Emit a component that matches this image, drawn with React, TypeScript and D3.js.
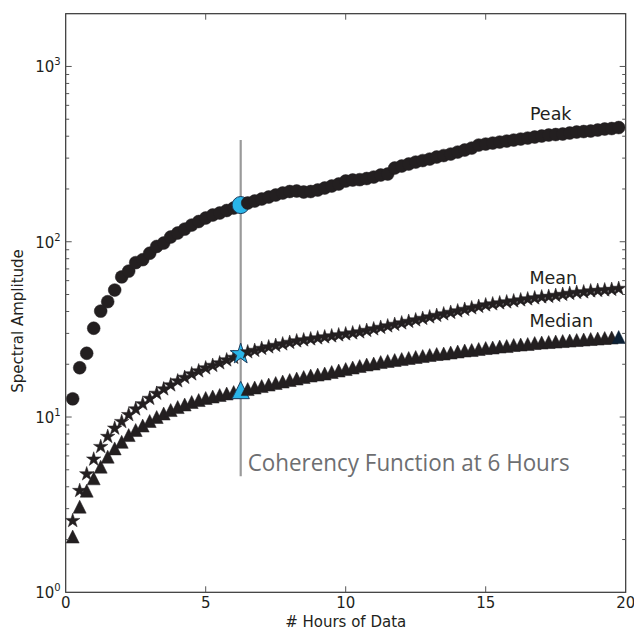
import React from 'react';
import * as d3 from 'd3';

const hours = [
  0.25, 0.5, 0.75, 1, 1.25, 1.5, 1.75, 2, 2.25, 2.5, 2.75, 3, 3.25, 3.5, 3.75, 4,
  4.25, 4.5, 4.75, 5, 5.25, 5.5, 5.75, 6, 6.25, 6.5, 6.75, 7, 7.25, 7.5, 7.75, 8,
  8.25, 8.5, 8.75, 9, 9.25, 9.5, 9.75, 10, 10.25, 10.5, 10.75, 11, 11.25, 11.5, 11.75, 12,
  12.25, 12.5, 12.75, 13, 13.25, 13.5, 13.75, 14, 14.25, 14.5, 14.75, 15, 15.25, 15.5, 15.75, 16,
  16.25, 16.5, 16.75, 17, 17.25, 17.5, 17.75, 18, 18.25, 18.5, 18.75, 19, 19.25, 19.5, 19.75,
];

const peak = [
  12.7, 19.1, 23.1, 32.1, 40.2, 45.5, 53.0, 63.0, 68.0, 76.0, 79.0, 86.0, 94.0, 98.3, 106.4, 112.1,
  118.1, 124.5, 130.4, 136.6, 142.0, 145.8, 150.7, 155.7, 161.9, 166.3, 170.7, 175.3, 179.9, 184.7, 189.6, 193.4,
  194.7, 192.1, 193.4, 197.2, 202.5, 207.9, 213.4, 222.0, 224.9, 226.0, 229.4, 233.9, 240.2, 243.4, 263.3, 270.3,
  277.5, 284.8, 290.5, 296.3, 304.2, 310.2, 316.4, 324.8, 333.5, 342.3, 356.1, 360.8, 365.6, 370.4, 375.3, 380.3,
  385.3, 390.4, 395.6, 400.9, 406.2, 408.8, 411.5, 417.0, 422.5, 425.3, 428.1, 433.8, 439.5, 442.4, 448.2,
];

const mean = [
  2.56, 3.80, 4.73, 5.74, 6.77, 7.73, 8.62, 9.40, 10.3, 11.1, 11.87, 12.75, 13.62, 14.44, 15.22, 16.05,
  16.80, 17.59, 18.30, 19.03, 19.67, 20.33, 21.14, 21.85, 22.88, 23.49, 23.95, 24.59, 25.08, 25.57, 26.08, 26.61,
  27.14, 27.49, 27.86, 28.22, 28.60, 28.98, 29.36, 29.75, 30.14, 30.54, 31.14, 31.77, 32.40, 33.04, 33.70, 34.37,
  35.06, 35.76, 36.47, 37.20, 37.93, 38.69, 39.46, 40.25, 41.05, 41.87, 42.70, 43.55, 44.13, 44.71, 45.30, 45.90,
  46.50, 47.12, 47.74, 48.37, 48.69, 49.33, 49.98, 50.64, 51.31, 51.65, 52.33, 52.67, 53.02, 53.37, 54.08,
];

const median = [
  2.08, 3.08, 3.80, 4.47, 5.21, 5.94, 6.62, 7.22, 7.89, 8.43, 8.94, 9.49, 10.0, 10.47, 10.96, 11.40,
  11.79, 12.18, 12.50, 12.84, 13.09, 13.35, 13.62, 13.88, 14.26, 14.44, 14.73, 15.02, 15.32, 15.63, 15.94, 16.26,
  16.58, 16.91, 17.24, 17.47, 17.71, 18.06, 18.42, 18.78, 19.16, 19.54, 19.93, 20.19, 20.59, 20.87, 21.14, 21.42,
  21.71, 22.00, 22.28, 22.58, 22.88, 23.03, 23.33, 23.64, 23.96, 24.11, 24.43, 24.75, 24.92, 25.25, 25.41, 25.75,
  25.92, 26.09, 26.43, 26.61, 26.78, 26.96, 27.13, 27.31, 27.49, 27.68, 27.86, 28.04, 28.23, 28.41, 28.60,
];

const seriesNames = ['Peak', 'Mean', 'Median'];
const highlightHour = 6.25;
const xTickValues = [0, 5, 10, 15, 20];
const yTickExponents = [0, 1, 2, 3];
const annotationText = 'Coherency Function at 6 Hours';
const xLabel = '# Hours of Data';
const yLabel = 'Spectral Amplitude';

const W = 634;
const H = 631;
const M = { l: 65.7, r: 8.3, t: 13.7, b: 38.7 };

const BLACK = '#231f20';
const BLUE = '#29b5e8';
const BLUE_EDGE = '#1c3d5e';
const FONT = '"DejaVu Sans", sans-serif';

const triangleType = {
  draw(ctx: any, size: number) {
    const s = Math.sqrt(size) / 2;
    ctx.moveTo(0, -s);
    ctx.lineTo(s, s);
    ctx.lineTo(-s, s);
    ctx.closePath();
  },
};

export default function App() {
  const x = d3.scaleLinear().domain([0, 20]).range([M.l, W - M.r]);
  const y = d3.scaleLog().domain([1, 2000]).range([H - M.b, M.t]);

  const series = [
    { name: seriesNames[0], values: peak, type: d3.symbolCircle, size: 130, hiSize: 230 },
    { name: seriesNames[1], values: mean, type: d3.symbolStar, size: 64, hiSize: 135 },
    { name: seriesNames[2], values: median, type: triangleType, size: 169, hiSize: 300 },
  ];

  const labelPos = [
    { hx: 16.58, v: 494 },
    { hx: 16.56, v: 57.4 },
    { hx: 16.56, v: 32.7 },
  ];

  const minorTicks: number[] = [];
  for (const e of [0, 1, 2, 3]) {
    for (let m = 2; m <= 9; m++) {
      const v = m * Math.pow(10, e);
      if (v < 2000) minorTicks.push(v);
    }
  }

  const x0 = M.l;
  const x1 = W - M.r;
  const y0 = H - M.b;
  const y1 = M.t;

  return (
    <svg
      width={W}
      height={H}
      viewBox={`0 0 ${W} ${H}`}
      style={{ position: 'absolute', left: 0, top: 0, background: '#fff' }}
    >
      <rect x={0} y={0} width={W} height={H} fill="#fff" />

      {/* vertical highlight line */}
      <line
        x1={x(highlightHour)}
        x2={x(highlightHour)}
        y1={y(380)}
        y2={y(4.6)}
        stroke="#9a9a9a"
        strokeWidth={2.2}
      />

      {/* markers */}
      {series.map((s) => (
        <g key={s.name}>
          {s.values.map((v, i) => {
            const hi = hours[i] === highlightHour;
            const isLastMedian = s.name === 'Median' && i === s.values.length - 1;
            const path = d3.symbol().type(s.type as any).size(hi ? s.hiSize : s.size)();
            return (
              <path
                key={i}
                d={path as string}
                transform={`translate(${x(hours[i])},${y(v)})`}
                fill={hi ? BLUE : isLastMedian ? '#0d2135' : BLACK}
                stroke={hi ? BLUE_EDGE : isLastMedian ? '#0d2135' : BLACK}
                strokeWidth={hi ? 1 : 0.5}
              />
            );
          })}
        </g>
      ))}

      {/* series labels */}
      {series.map((s, i) => (
        <text
          key={s.name}
          x={x(labelPos[i].hx)}
          y={y(labelPos[i].v)}
          fontFamily={FONT}
          fontSize={17.5}
          fill={BLACK}
        >
          {s.name}
        </text>
      ))}

      {/* annotation */}
      <text
        x={x(6.5)}
        y={y(4.9)}
        fontFamily="'Open Sans', Lato, sans-serif"
        fontSize={24}
        fontWeight={500}
        fill="#6d6e71"
        textLength={322}
        lengthAdjust="spacingAndGlyphs"
      >
        {annotationText}
      </text>

      {/* frame */}
      <rect x={x0} y={y1} width={x1 - x0} height={y0 - y1} fill="none" stroke="#333" strokeWidth={1.2} />

      {/* x ticks */}
      {xTickValues.map((t) => (
        <g key={`xt${t}`}>
          {t > 0 && t < 20 && (
            <>
              <line x1={x(t)} x2={x(t)} y1={y0} y2={y0 - 6} stroke="#555" strokeWidth={1} />
              <line x1={x(t)} x2={x(t)} y1={y1} y2={y1 + 6} stroke="#555" strokeWidth={1} />
            </>
          )}
          <text x={x(t)} y={y0 + 16} textAnchor="middle" fontFamily={FONT} fontSize={15} fill={BLACK}>
            {t}
          </text>
        </g>
      ))}

      {/* y major ticks */}
      {yTickExponents.map((e) => {
        const v = Math.pow(10, e);
        const py = y(v);
        return (
          <g key={`yt${e}`}>
            {e > 0 && (
              <>
                <line x1={x0} x2={x0 + 6} y1={py} y2={py} stroke="#555" strokeWidth={1} />
                <line x1={x1} x2={x1 - 6} y1={py} y2={py} stroke="#555" strokeWidth={1} />
              </>
            )}
            <text x={x0 - 5} y={py + 6} textAnchor="end" fontFamily={FONT} fontSize={15} fill={BLACK}>
              10
              <tspan fontSize={10} dy={-7}>
                {e}
              </tspan>
            </text>
          </g>
        );
      })}

      {/* y minor ticks */}
      {minorTicks.map((v) => (
        <g key={`ym${v}`}>
          <line x1={x0} x2={x0 + 3.5} y1={y(v)} y2={y(v)} stroke="#555" strokeWidth={1} />
          <line x1={x1} x2={x1 - 3.5} y1={y(v)} y2={y(v)} stroke="#555" strokeWidth={1} />
        </g>
      ))}

      {/* axis labels */}
      <text x={(x0 + x1) / 2} y={627} textAnchor="middle" fontFamily={FONT} fontSize={15} fill={BLACK}>
        {xLabel}
      </text>
      <text
        transform={`translate(23, 321) rotate(-90)`}
        textAnchor="middle"
        fontFamily={FONT}
        fontSize={15}
        fill={BLACK}
      >
        {yLabel}
      </text>
    </svg>
  );
}
